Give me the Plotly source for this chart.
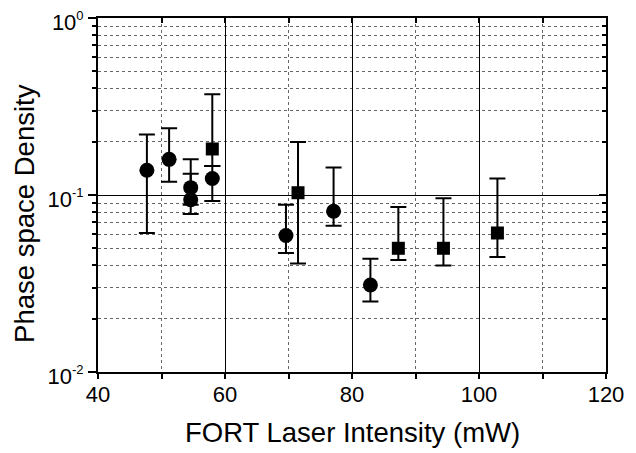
import plotly.graph_objects as go

# Circles series
circ_x = [47.7, 51.2, 54.6, 54.6, 58.0, 69.6, 77.1, 82.9]
circ_y = [0.138, 0.159, 0.110, 0.094, 0.124, 0.059, 0.081, 0.031]
circ_hi = [0.220, 0.238, 0.159, 0.132, 0.146, 0.088, 0.143, 0.0437]
circ_lo = [0.061, 0.119, 0.088, 0.078, 0.0925, 0.047, 0.067, 0.025]

# Squares series
sq_x = [58.0, 71.5, 87.3, 94.4, 102.9]
sq_y = [0.182, 0.103, 0.050, 0.050, 0.061]
sq_hi = [0.371, 0.199, 0.0855, 0.096, 0.124]
sq_lo = [0.146, 0.041, 0.043, 0.040, 0.0446]

x_title = "FORT Laser Intensity (mW)"
y_title = "Phase space Density"
y_tickvals = [0.01, 0.1, 1]
y_ticktext = ["10<sup><span style='font-size:13px'>-2</span></sup>",
              "10<sup><span style='font-size:13px'>-1</span></sup>",
              "10<sup><span style='font-size:13px'>0</span></sup>"]

FONT = "Liberation Sans, Arial, Helvetica, sans-serif"


def err(y, hi, lo):
    return dict(type="data", symmetric=False,
                array=[h - v for h, v in zip(hi, y)],
                arrayminus=[v - l for v, l in zip(y, lo)],
                color="black", thickness=2, width=8)


fig = go.Figure()
fig.add_trace(go.Scatter(x=circ_x, y=circ_y, mode="markers",
                         marker=dict(symbol="circle", size=15, color="black"),
                         error_y=err(circ_y, circ_hi, circ_lo), showlegend=False))
fig.add_trace(go.Scatter(x=sq_x, y=sq_y, mode="markers",
                         marker=dict(symbol="square", size=13, color="black"),
                         error_y=err(sq_y, sq_hi, sq_lo), showlegend=False))
# invisible trace to activate the top/right mirror axes (inside ticks)
fig.add_trace(go.Scatter(x=[None], y=[None], xaxis="x2", yaxis="y2",
                         mode="markers", showlegend=False, hoverinfo="skip"))

fig.update_layout(
    width=628, height=445,
    margin=dict(l=90, r=30, t=10, b=81, autoexpand=False),
    paper_bgcolor="white", plot_bgcolor="white",
    font=dict(family=FONT, color="black", size=22),
    xaxis=dict(range=[40, 120], dtick=20, tick0=40, automargin=False,
               showline=True, linecolor="black", linewidth=2, mirror=True,
               ticks="outside", ticklen=5, tickwidth=1.5, tickcolor="black",
               ticklabelstandoff=-3,
               showgrid=True, gridcolor="black", gridwidth=1.3,
               zeroline=False,
               tickfont=dict(size=22),
               minor=dict(dtick=10, showgrid=True, gridcolor="#666",
                          griddash="dot", gridwidth=1,
                          ticks="outside", ticklen=5, tickcolor="black")),
    yaxis=dict(type="log", range=[-2, 0], automargin=False,
               tickmode="array", tickvals=y_tickvals, ticktext=y_ticktext,
               ticklabeloverflow="allow", ticklabelshift=4,
               showline=True, linecolor="black", linewidth=2, mirror=True,
               ticks="outside", ticklen=8, tickwidth=1.5, tickcolor="black",
               showgrid=True, gridcolor="black", gridwidth=1.3,
               zeroline=False,
               tickfont=dict(size=22),
               minor=dict(dtick="D1", showgrid=True, gridcolor="#666",
                          griddash="dot", gridwidth=1,
                          ticks="outside", ticklen=4, tickcolor="black")),
    xaxis2=dict(range=[40, 120], dtick=20, tick0=40, overlaying="x",
                side="top", anchor="y2", automargin=False,
                showticklabels=False, showgrid=False, zeroline=False,
                showline=False, ticks="inside", ticklen=5, tickwidth=1.5,
                tickcolor="black",
                minor=dict(dtick=10, ticks="inside", ticklen=5,
                           tickcolor="black", showgrid=False)),
    yaxis2=dict(type="log", range=[-2, 0], overlaying="y", side="right",
                anchor="x2", automargin=False,
                tickmode="array", tickvals=y_tickvals,
                showticklabels=False, showgrid=False, zeroline=False,
                showline=False, ticks="inside", ticklen=7, tickwidth=1.5,
                tickcolor="black",
                minor=dict(dtick="D1", ticks="inside", ticklen=4,
                           tickcolor="black", showgrid=False)),
    annotations=[
        dict(text=x_title, xref="paper", yref="paper", x=0.5, y=-0.172,
             xanchor="center", yanchor="middle", showarrow=False,
             font=dict(size=27.5)),
        dict(text=y_title, xref="paper", yref="paper", x=-0.146, y=0.449,
             xanchor="center", yanchor="middle", showarrow=False,
             textangle=-90, font=dict(size=27.5)),
    ],
)

fig.write_html("out.html")
